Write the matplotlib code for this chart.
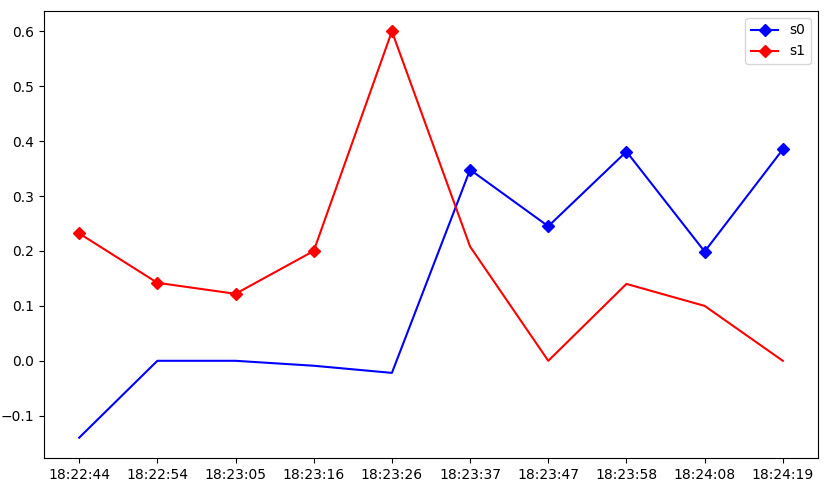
import matplotlib
matplotlib.use("Agg")
import matplotlib.pyplot as plt

times = ["18:22:44", "18:22:54", "18:23:05", "18:23:16", "18:23:26",
         "18:23:37", "18:23:47", "18:23:58", "18:24:08", "18:24:19"]
s0 = [-0.14, 0.0, 0.0, -0.009, -0.022, 0.348, 0.245, 0.381, 0.199, 0.385]
s1 = [0.232, 0.142, 0.122, 0.2, 0.6, 0.208, 0.0, 0.14, 0.1, 0.0]
s0_marked = [5, 6, 7, 8, 9]
s1_marked = [0, 1, 2, 3, 4]

fig = plt.figure(figsize=(8.31, 4.88), dpi=100)
ax = fig.add_axes([44 / 831, 30 / 488, 774 / 831, 447 / 488])

x = list(range(len(times)))
ax.plot(x, s0, color='blue', marker='D', markevery=s0_marked, label='s0')
ax.plot(x, s1, color='red', marker='D', markevery=s1_marked, label='s1')

ax.set_xticks(x)
ax.set_xticklabels(times)
ax.legend(loc='upper right')

fig.savefig('out.png', dpi=100)
